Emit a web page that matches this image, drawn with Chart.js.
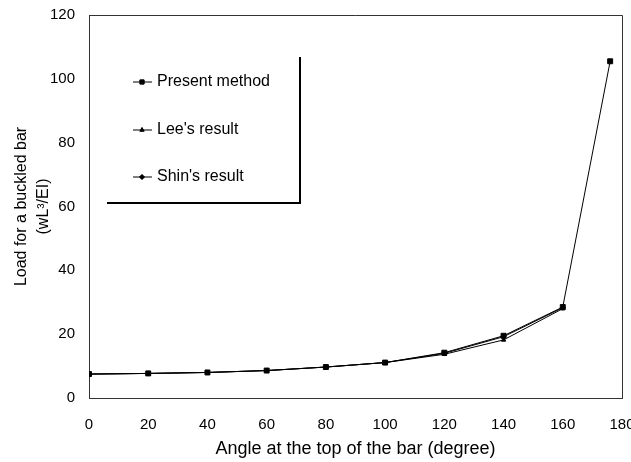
<!DOCTYPE html>
<html>
<head>
<meta charset="utf-8">
<script src="https://cdn.jsdelivr.net/npm/chart.js@4"></script>
<style>
    html, body { margin: 0; padding: 0; background: #fff; }
    #wrap { width: 631px; height: 462px; }
</style>
</head>
<body>
<div id="wrap"><canvas id="loadChart" width="631" height="462"></canvas></div>
<script>
// angle at the top of the bar (degree)
const angles = [0, 20, 40, 60, 80, 100, 120, 140, 160, 176];
const presentMethod = [7.5, 7.7, 8.0, 8.6, 9.7, 11.1, 14.2, 19.5, 28.5, 105.5];
const leeResult = [7.5, 7.7, 8.0, 8.6, 9.7, 11.1, 13.7, 18.2, 28.0];
const shinResult = [7.5, 7.7, 8.0, 8.6, 9.7, 11.1, 14.0, 19.2, 28.3];
const xTicks = [0, 20, 40, 60, 80, 100, 120, 140, 160, 180];
const yTicks = [0, 20, 40, 60, 80, 100, 120];

const seriesNames = ["Present method", "Lee's result", "Shin's result"];
const markers = ["rect", "triangle", "rectRot"];

function toPoints(values) {
    return values.map((v, i) => ({ x: angles[i], y: v }));
}

const fontFamily = "'Liberation Sans', Arial, sans-serif";

// frame on top/right of the plot + legend box inside the plot
const framePlugin = {
    id: "framePlugin",
    afterDraw(chart) {
        const ctx = chart.ctx;
        const a = chart.chartArea;
        ctx.save();
        ctx.strokeStyle = "#333";
        ctx.lineWidth = 1;
        ctx.beginPath();
        ctx.moveTo(a.left, a.top + 0.5);
        ctx.lineTo(a.right + 0.5, a.top + 0.5);
        ctx.lineTo(a.right + 0.5, a.bottom);
        ctx.stroke();

        // legend box, shadowed on right and bottom only
        const bx1 = 107, bx2 = 300, by2 = 203, by1 = 57;
        ctx.strokeStyle = "#000";
        ctx.lineWidth = 2;
        ctx.beginPath();
        ctx.moveTo(bx1, by2);
        ctx.lineTo(bx2, by2);
        ctx.lineTo(bx2, by1);
        ctx.stroke();

        const rows = [82, 130, 177];
        ctx.font = "16px " + fontFamily;
        ctx.fillStyle = "#000";
        ctx.textBaseline = "middle";
        rows.forEach((yy, i) => {
            ctx.lineWidth = 1;
            ctx.beginPath();
            ctx.moveTo(133, yy);
            ctx.lineTo(152, yy);
            ctx.stroke();
            Chart.helpers.drawPoint(ctx, { pointStyle: markers[i], radius: i === 0 ? 3 : 2.5, borderWidth: 1 }, 142, yy);
            ctx.fill();
            ctx.fillText(seriesNames[i], 157, yy);
        });
        ctx.restore();
    }
};

function makeSet(label, values, style) {
    return {
        label: label,
        data: toPoints(values),
        borderColor: "#000",
        backgroundColor: "#000",
        borderWidth: 1,
        pointStyle: style,
        pointRadius: style === "rect" ? 3.5 : 2.5,
        tension: 0
    };
}

new Chart(document.getElementById("loadChart").getContext("2d"), {
    type: "line",
    data: {
        datasets: [
            makeSet(seriesNames[1], leeResult, markers[1]),
            makeSet(seriesNames[2], shinResult, markers[2]),
            makeSet(seriesNames[0], presentMethod, markers[0])
        ]
    },
    options: {
        responsive: false,
        animation: false,
        layout: { padding: { left: 0, right: 9, top: 15, bottom: 0 } },
        plugins: {
            legend: { display: false },
            tooltip: { enabled: false }
        },
        scales: {
            x: {
                type: "linear",
                min: xTicks[0],
                max: xTicks[xTicks.length - 1],
                afterBuildTicks: s => { s.ticks = xTicks.map(v => ({ value: v })); },
                afterFit: s => { s.height = 64; s.paddingRight = 0; s.paddingLeft = 0; },
                grid: { display: false, drawTicks: false },
                border: { display: true, color: "#333", width: 1 },
                ticks: { color: "#000", padding: 18, font: { family: fontFamily, size: 15 } },
                title: {
                    display: true,
                    text: "Angle at the top of the bar (degree)",
                    color: "#000",
                    padding: { top: 6, bottom: 2 },
                    font: { family: fontFamily, size: 18 }
                }
            },
            y: {
                min: yTicks[0],
                max: yTicks[yTicks.length - 1],
                afterBuildTicks: s => { s.ticks = yTicks.map(v => ({ value: v })); },
                afterFit: s => { s.width = 89; s.paddingTop = 0; s.paddingBottom = 0; },
                grid: { display: false, drawTicks: false },
                border: { display: true, color: "#333", width: 1 },
                ticks: { color: "#000", padding: 14, font: { family: fontFamily, size: 15 } },
                title: {
                    display: true,
                    text: ["Load for a buckled bar", "(wL\u00B3/EI)"],
                    color: "#000",
                    padding: { top: 10, bottom: 4 },
                    font: { family: fontFamily, size: 16, lineHeight: 1.4 }
                }
            }
        }
    },
    plugins: [framePlugin]
});
</script>
</body>
</html>
